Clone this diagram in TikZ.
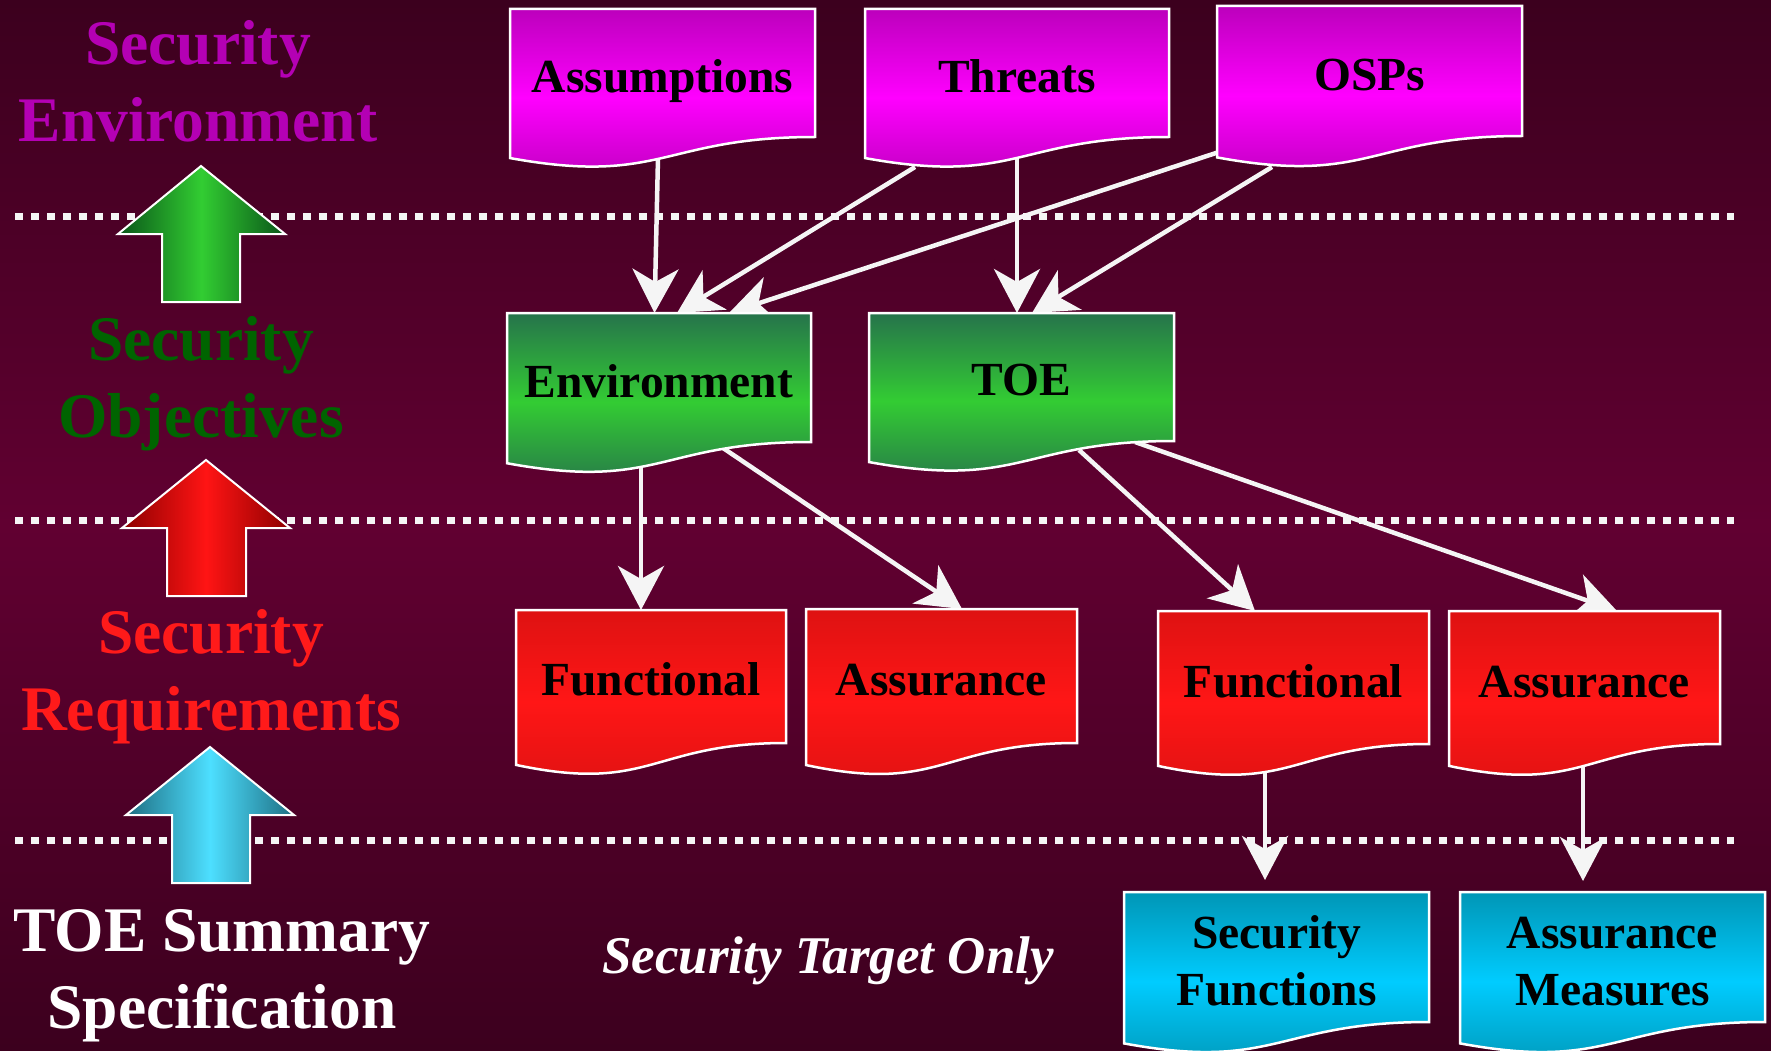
\documentclass[tikz,border=0pt]{standalone}
\usepackage{fontspec}
\setmainfont{Liberation Serif}
\usetikzlibrary{arrows.meta,calc}
\definecolor{bgdark}{RGB}{60,0,30}
\definecolor{bgmid}{RGB}{97,0,49}
\definecolor{magA}{RGB}{188,0,188}
\definecolor{magB}{RGB}{255,0,255}
\definecolor{grnA}{RGB}{38,115,75}
\definecolor{grnB}{RGB}{51,204,51}
\definecolor{redA}{RGB}{222,18,18}
\definecolor{redB}{RGB}{255,22,22}
\definecolor{cyA}{RGB}{0,150,182}
\definecolor{cyB}{RGB}{0,204,255}
\definecolor{purpText}{RGB}{180,0,180}
\definecolor{grnText}{RGB}{0,100,0}
\definecolor{redText}{RGB}{255,26,26}
\definecolor{gEdge}{RGB}{10,85,25}
\definecolor{gMid}{RGB}{50,205,50}
\definecolor{rEdge}{RGB}{140,0,0}
\definecolor{rMid}{RGB}{255,20,20}
\definecolor{cEdge}{RGB}{30,110,130}
\definecolor{cMid}{RGB}{77,223,255}
\definecolor{lineW}{RGB}{245,245,245}
\pgfdeclarelayer{bg}
\pgfdeclarelayer{conn}
\pgfsetlayers{bg,conn,main}
\tikzset{
  conn/.style={draw=lineW, line width=4.5pt, -{Stealth[length=44pt,width=46pt,inset=13pt]}},
  dotline/.style={draw=lineW, line width=7pt, dash pattern=on 8pt off 8pt},
  blockarrow/.style={draw=white, line width=2pt},
  boxtext/.style={font=\fontsize{47.5}{57}\selectfont\bfseries, text=black, inner sep=0pt, align=center, anchor=base},
  sidelabel/.style={font=\fontsize{63.5}{77}\selectfont\bfseries, inner sep=0pt, align=center, anchor=base},
  docframe/.style={draw=white, line width=2.5pt},
  docnode/.style={rectangle, inner sep=0pt, outer sep=0pt},
  magdoc/.style={docframe, top color=magA, bottom color=magA, middle color=magB},
  grndoc/.style={docframe, top color=grnA, bottom color=grnA, middle color=grnB},
  reddoc/.style={docframe, top color=redA, bottom color=redA, middle color=redB},
  cydoc/.style={docframe, top color=cyA, bottom color=cyA, middle color=cyB},
}
% #1 name, #2 left, #3 top, #4 right, #5 right-bottom, #6 style, #7 text, #8 (last) baseline offset
\newcommand\docbox[8]{%
  \path[#6] (#2,#3) -- (#4,#3) -- (#4,#5)
    .. controls ({(#2+#4)/2},#5) and ({(#2+#4)/2},{#3+(#5-#3)*1.381})
    .. (#2,{#3+(#5-#3)*1.1646}) -- cycle;
  \node[docnode, minimum width={(#4-#2)*1pt}, minimum height={(#5-#3)*1pt}] (#1) at ({(#2+#4)/2},{(#3+#5)/2}) {};
  \node[boxtext] (#1-t) at ({(#2+#4)/2},{#3+#8}) {#7};
}
\begin{document}
\begin{tikzpicture}[x=1pt,y=-1pt]
\useasboundingbox (0,0) rectangle (1771,1051);
\begin{pgfonlayer}{bg}
\fill[top color=bgdark, bottom color=bgdark, middle color=bgmid] (0,0) rectangle (1771,1051);
\draw[dotline] (15,216) -- (1734,216);
\draw[dotline] (15,520) -- (1734,520);
\draw[dotline] (15,840) -- (1734,840);
\path[blockarrow, left color=gEdge, right color=gEdge, middle color=gMid]
  (201,166) -- (285,234) -- (240,234) -- (240,302) -- (162,302) -- (162,234) -- (118,234) -- cycle;
\path[blockarrow, left color=rEdge, right color=rEdge, middle color=rMid]
  (206,460) -- (290,528) -- (246,528) -- (246,596) -- (167,596) -- (167,528) -- (122,528) -- cycle;
\path[blockarrow, left color=cEdge, right color=cEdge, middle color=cMid]
  (210,747) -- (294,815) -- (250,815) -- (250,883) -- (172,883) -- (172,815) -- (126,815) -- cycle;
\end{pgfonlayer}

% side labels (anchor base = last line)
\node[sidelabel, text=purpText] (envlabel) at (198,142) {Security\\Environment};
\node[sidelabel, text=grnText] (objlabel) at (201,437) {Security\\Objectives};
\node[sidelabel, text=redText] (reqlabel) at (211,730) {Security\\Requirements};
\node[sidelabel, text=white] (tsslabel) at (222,1028) {TOE Summary\\Specification};
\node[font=\fontsize{53}{60}\selectfont\bfseries\itshape, text=white, inner sep=0pt, anchor=base] (stonly) at (828,973) {Security Target Only};

% document boxes
\docbox{assm}{510}{9}{815}{137}{magdoc}{Assumptions}{84}
\docbox{thr}{865}{9}{1169}{137}{magdoc}{Threats}{84}
\docbox{osp}{1217}{6}{1522}{136}{magdoc}{OSPs}{85}
\docbox{env}{507}{313}{811}{442}{grndoc}{Environment}{84}
\docbox{toe}{869}{313}{1174}{441}{grndoc}{TOE}{82}
\docbox{fun1}{516}{610}{786}{743}{reddoc}{Functional}{85}
\docbox{ass1}{806}{609}{1077}{743}{reddoc}{Assurance}{86}
\docbox{fun2}{1158}{611}{1429}{744}{reddoc}{Functional}{86}
\docbox{ass2}{1449}{611}{1720}{744}{reddoc}{Assurance}{86}
\docbox{sfun}{1124}{892}{1429}{1022}{cydoc}{Security\\Functions}{113}
\docbox{ameas}{1460}{892}{1765}{1022}{cydoc}{Assurance\\Measures}{113}

% connectors
\begin{pgfonlayer}{conn}
\draw[conn] ([shift={(-4.5,20)}]assm.south) -- ([shift={(-4.5,0)}]env.north);
\draw[conn] ([shift={(-102,30)}]thr.south) -- ([shift={(18,0)}]env.north);
\draw[conn] ([shift={(2,16)}]osp.south west) -- ([shift={(70,0)}]env.north);
\draw[conn] ([shift={(0,20)}]thr.south) -- ([shift={(-4.5,0)}]toe.north);
\draw[conn] ([shift={(-97.5,31)}]osp.south) -- ([shift={(10.5,0)}]toe.north);
\draw[conn] ([shift={(-18,24)}]env.south) -- ([shift={(-10,0)}]fun1.north);
\draw[conn] ([shift={(64,6)}]env.south) -- ([shift={(20.5,0)}]ass1.north);
\draw[conn] ([shift={(57.5,9)}]toe.south) -- ([shift={(-38.5,0)}]fun2.north);
\draw[conn] ([shift={(113.5,1)}]toe.south) -- ([shift={(32.5,0)}]ass2.north);
\draw[conn] ([shift={(-28.5,28)}]fun2.south) -- ([shift={(-11.5,-12)}]sfun.north);
\draw[conn] ([shift={(-1.5,22)}]ass2.south) -- ([shift={(-29.5,-11)}]ameas.north);
\end{pgfonlayer}
\end{tikzpicture}
\end{document}
